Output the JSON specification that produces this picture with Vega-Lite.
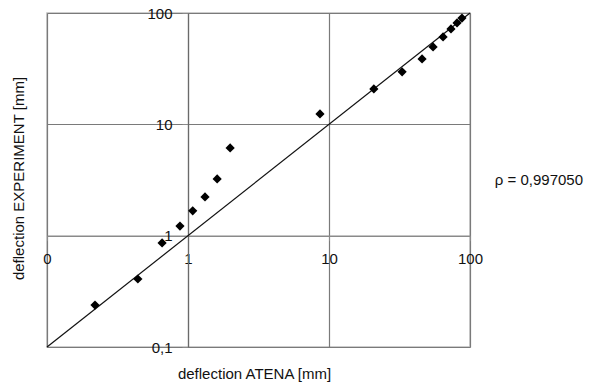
{
  "$schema": "https://vega.github.io/schema/vega-lite/v6.json",
  "width": 423,
  "height": 334,
  "autosize": "none",
  "padding": {"left": 47, "top": 13, "right": 123, "bottom": 36},
  "background": "white",
  "config": {
    "font": "Liberation Sans",
    "view": {"stroke": "#bdbdbd", "strokeWidth": 1.5},
    "axis": {"labelFont": "Liberation Sans", "titleFont": "Liberation Sans", "labelFontSize": 15, "titleFontSize": 15, "labelColor": "#111", "titleColor": "#111", "titleFontWeight": "normal"}
  },
  "datasets": {
    "points": [
      {"atena": 0.219, "experiment": 0.238},
      {"atena": 0.441, "experiment": 0.408},
      {"atena": 0.655, "experiment": 0.86},
      {"atena": 0.877, "experiment": 1.22},
      {"atena": 1.08, "experiment": 1.67},
      {"atena": 1.32, "experiment": 2.23},
      {"atena": 1.61, "experiment": 3.23},
      {"atena": 1.99, "experiment": 6.14},
      {"atena": 8.63, "experiment": 12.4},
      {"atena": 20.8, "experiment": 20.8},
      {"atena": 33.0, "experiment": 29.6},
      {"atena": 45.7, "experiment": 38.7},
      {"atena": 54.7, "experiment": 49.6},
      {"atena": 64.4, "experiment": 61.0},
      {"atena": 73.3, "experiment": 72.0},
      {"atena": 80.9, "experiment": 81.5},
      {"atena": 87.7, "experiment": 90.0}
    ],
    "diagonal": [
      {"atena": 0.1, "experiment": 0.1},
      {"atena": 100, "experiment": 100}
    ],
    "note": [
      {"label": "ρ = 0,997050", "atena": 150, "experiment": 3.16}
    ]
  },
  "layer": [
    {
      "data": {"name": "diagonal"},
      "mark": {"type": "line", "color": "#111", "strokeWidth": 1.2, "clip": false},
      "encoding": {
        "x": {
          "field": "atena", "type": "quantitative",
          "scale": {"type": "log", "domain": [0.1, 100], "nice": false},
          "axis": {
            "values": [0.1, 1, 10, 100],
            "offset": -111.3,
            "grid": true,
            "gridColor": "#7a7a7a",
            "gridWidth": 1.2,
            "domainColor": "#8a8a8a",
            "domainWidth": 1.5,
            "tickColor": "#8a8a8a",
            "tickSize": 5,
            "labelPadding": 11,
            "labelFlush": false,
            "labelOverlap": false,
            "labelExpr": "datum.value < 1 ? '0' : format(datum.value, 'd')",
            "title": "deflection ATENA [mm]",
            "titleX": 207,
            "titleY": 138,
            "titleAlign": "center",
            "titleBaseline": "middle"
          }
        },
        "y": {
          "field": "experiment", "type": "quantitative",
          "scale": {"type": "log", "domain": [0.1, 100], "nice": false},
          "axis": {
            "values": [0.1, 1, 10, 100],
            "offset": -141,
            "grid": true,
            "gridColor": "#7a7a7a",
            "gridWidth": 1.2,
            "domainColor": "#6a6a6a",
            "domainWidth": 1.2,
            "tickColor": "#8a8a8a",
            "tickSize": 6,
            "labelPadding": 10,
            "labelFlush": false,
            "labelOverlap": false,
            "labelExpr": "datum.value == 0.1 ? '0,1' : format(datum.value, 'd')",
            "title": "deflection EXPERIMENT [mm]",
            "titleX": -170,
            "titleY": 165,
            "titleAngle": 270,
            "titleAlign": "center",
            "titleBaseline": "middle"
          }
        }
      }
    },
    {
      "data": {"name": "points"},
      "mark": {"type": "point", "shape": "diamond", "filled": true, "color": "#000", "size": 85, "opacity": 1},
      "encoding": {
        "x": {"field": "atena", "type": "quantitative"},
        "y": {"field": "experiment", "type": "quantitative"}
      }
    },
    {
      "data": {"name": "note"},
      "mark": {"type": "text", "align": "left", "baseline": "middle", "fontSize": 15, "font": "Liberation Sans", "color": "#111"},
      "encoding": {
        "x": {"field": "atena", "type": "quantitative"},
        "y": {"field": "experiment", "type": "quantitative"},
        "text": {"field": "label"}
      }
    }
  ]
}
